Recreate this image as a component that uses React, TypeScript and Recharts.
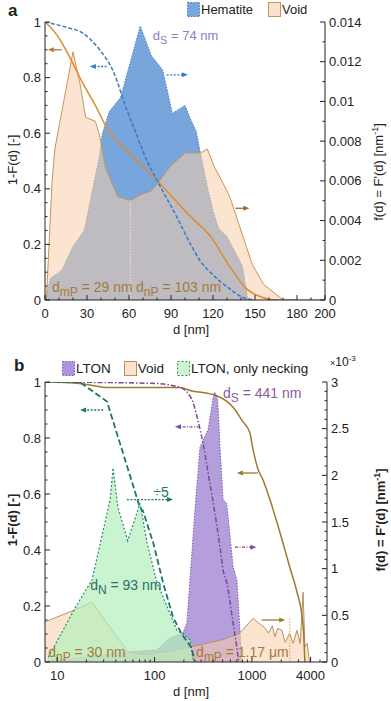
import React from 'react'
import { ComposedChart, Area, Line, XAxis, YAxis, ReferenceLine, ReferenceDot } from 'recharts'

const FONT = '"Liberation Sans", Arial, sans-serif'
const INK = '#222'

// ---- panel a : hematite / void, linear d ----
const hemD = [0, 4, 12, 20, 28, 39, 41, 46, 54, 68, 76, 84, 91, 100, 104, 108, 111, 116, 120, 124, 130, 141, 145]
const hemF = [0, 0.0011, 0.0015, 0.0027, 0.0035, 0.0073, 0.0084, 0.0095, 0.0102, 0.0138, 0.0123, 0.0116, 0.0094, 0.0098, 0.0091, 0.0085, 0.0074, 0.0057, 0.0045, 0.0036, 0.0032, 0.0017, 0]
const voidAD = [0, 1, 5, 7, 20, 25, 29, 36, 39, 43, 52, 61, 68, 76, 81, 89, 100, 111, 116, 121, 127, 132, 148, 156, 170, 200]
const voidAF = [0, 0, 0.0059, 0.0076, 0.0125, 0.0109, 0.0092, 0.009, 0.0083, 0.0067, 0.0052, 0.005, 0.0053, 0.0055, 0.0059, 0.0067, 0.0074, 0.0074, 0.0076, 0.0067, 0.0059, 0.0052, 0.0018, 0.0008, 0, 0]
const hemCumD = [0, 16, 27, 39, 49, 58, 65, 72, 80, 94, 104, 111, 118, 132, 141, 150]
const hemCum = [1, 0.98, 0.96, 0.9, 0.82, 0.69, 0.6, 0.51, 0.43, 0.3, 0.2, 0.14, 0.1, 0.04, 0.01, 0]
const voidACumD = [0, 9, 18, 27, 37, 44, 58, 80, 104, 118, 132, 144, 155, 165, 180]
const voidACum = [1, 0.95, 0.87, 0.78, 0.69, 0.62, 0.54, 0.43, 0.3, 0.23, 0.12, 0.04, 0.01, 0, 0]
const xMajorA = [0, 30, 60, 90, 120, 150, 180, 200]

// ---- panel b : LTON / void / necking, log d (f in 1e-3 nm^-1) ----
const ltonD = [8, 15, 56, 106, 144, 195, 215, 231, 260, 293, 355, 400, 417, 445, 470, 505, 550, 570, 640, 700, 750, 780]
const ltonF = [0.02, 0.04, 0.11, 0.13, 0.26, 0.31, 0.42, 0.88, 1.63, 2.3, 2.49, 2.83, 2.89, 2.81, 2.3, 1.74, 1.7, 1.55, 1.02, 0.88, 0.38, 0]
const voidBD = [7.5, 15.3, 22.8, 53, 80, 150, 230, 345, 505, 750, 1030, 1100, 1230, 1350, 1480, 1620, 1720, 1840, 2030, 2200, 2440, 2650, 2900, 3130, 3350, 3500, 3700, 3900]
const voidBF = [0.43, 0.56, 0.64, 0.11, 0.08, 0.12, 0.16, 0.2, 0.24, 0.31, 0.47, 0.44, 0.4, 0.37, 0.31, 0.39, 0.27, 0.36, 0.34, 0.21, 0.31, 0.2, 0.34, 0.2, 0.75, 0.16, 0.2, 0]
const neckD = [8.1, 15.3, 22.8, 35, 37.5, 42, 53, 71, 84, 106, 144, 170, 190, 230, 250]
const neckF = [0.05, 0.58, 0.88, 1.74, 2.08, 1.66, 1.3, 1.7, 1.27, 0.85, 0.52, 0.34, 0.31, 0.24, 0.02]
const ltonCumD = [7.5, 100, 183, 240, 280, 315, 355, 417, 470, 505, 555, 640, 700, 730]
const ltonCum = [1, 0.995, 0.98, 0.94, 0.86, 0.78, 0.675, 0.53, 0.41, 0.33, 0.28, 0.14, 0.05, 0]
const voidBCumD = [7.5, 17, 35, 183, 231, 440, 640, 800, 950, 1024, 1150, 1300, 1530, 1950, 2440, 2900, 3250, 3400, 3500]
const voidBCum = [1, 0.995, 0.98, 0.98, 0.97, 0.95, 0.91, 0.86, 0.82, 0.76, 0.69, 0.65, 0.58, 0.46, 0.34, 0.25, 0.17, 0.1, 0]
const neckCumD = [7.5, 17, 32.5, 71, 76, 97, 123, 155, 190, 240, 260]
const neckCum = [1, 1, 0.93, 0.55, 0.54, 0.425, 0.28, 0.16, 0.1, 0.05, 0]
const xMajorB = [10, 100, 1000, 4000]
const xMinorB = [20, 30, 40, 50, 60, 70, 80, 90, 200, 300, 400, 500, 600, 700, 800, 900, 2000, 3000, 5000]

const zip = (xs: number[], ys: number[]) => xs.map((d, i) => ({ d, v: ys[i] }))

function steps(a: number, b: number, s: number) {
  const out: number[] = []
  for (let i = 0; a + i * s <= b + 1e-9; i++) out.push(Math.round((a + i * s) * 1e6) / 1e6)
  return out
}

const GAP = 2
type Side = 'left' | 'right' | 'bottom' | 'top'

function mkTick(side: Side, majors: number[], fmt: ((v: number) => string) | null, fs = 13) {
  return (p: any) => {
    const v = p.payload.value
    const major = majors.some((m) => Math.abs(m - v) < 1e-9)
    const L = major ? 5 : 2.5
    const t = { fontFamily: FONT, fontSize: fs, fill: INK }
    if (side === 'left') {
      const ax = p.x + GAP
      return (
        <g>
          <line x1={ax} x2={ax + L} y1={p.y} y2={p.y} stroke={INK} />
          {major && fmt && <text x={ax - 4} y={p.y + 4.5} textAnchor="end" {...t}>{fmt(v)}</text>}
        </g>
      )
    }
    if (side === 'right') {
      const ax = p.x - GAP
      return (
        <g>
          <line x1={ax} x2={ax - L} y1={p.y} y2={p.y} stroke={INK} />
          {major && fmt && <text x={ax + 4} y={p.y + 4.5} textAnchor="start" {...t}>{fmt(v)}</text>}
        </g>
      )
    }
    if (side === 'bottom') {
      const ay = p.y - GAP
      return (
        <g>
          <line x1={p.x} x2={p.x} y1={ay} y2={ay - L} stroke={INK} />
          {major && fmt && <text x={p.x} y={ay + 18} textAnchor="middle" {...t}>{fmt(v)}</text>}
        </g>
      )
    }
    const ay = p.y + GAP
    return <line x1={p.x} x2={p.x} y1={ay} y2={ay + L} stroke={INK} />
  }
}

function Arrow(p: any, color: string, dash?: string) {
  const { x1, y1, x2, y2 } = p
  const dir = x2 > x1 ? 1 : -1
  return (
    <g>
      <line x1={x1} y1={y1} x2={x2 - dir * 4} y2={y2} stroke={color} strokeWidth={1.3} strokeDasharray={dash} />
      <polygon points={`${x2},${y2} ${x2 - dir * 6},${y2 - 2.5} ${x2 - dir * 6},${y2 + 2.5}`} fill={color} />
    </g>
  )
}

function Sub(p: any, main: string, sub: string, rest: string, color: string, fs = 13) {
  return (
    <text x={p.cx} y={p.cy} fontFamily={FONT} fontSize={fs} fill={color}>
      <tspan>{main}</tspan>
      <tspan dy={4} fontSize={fs - 2}>{sub}</tspan>
      <tspan dy={-4}>{rest}</tspan>
    </text>
  )
}

function LegendBox({ fill, stroke, dash }: { fill: string; stroke: string; dash?: string }) {
  return (
    <svg width={13} height={15} style={{ verticalAlign: 'middle' }}>
      <rect x={0.5} y={0.5} width={12} height={14} fill={fill} stroke={stroke} strokeDasharray={dash} />
    </svg>
  )
}

const title: React.CSSProperties = { position: 'absolute', fontFamily: FONT, fontSize: 13, color: INK, whiteSpace: 'nowrap' }

function PanelA() {
  const leftTicks = steps(0, 1, 0.05)
  const rightTicks = steps(0, 0.014, 0.001)
  const xTicks = steps(0, 200, 10)
  const blue = '#3a78c8'
  const brown = '#b07a40'
  return (
    <ComposedChart width={391} height={345} margin={{ top: 22, right: 16, bottom: 15, left: 15 }}>
      <XAxis xAxisId="b" dataKey="d" type="number" domain={[0, 200]} allowDataOverflow ticks={xTicks} interval={0}
        tickSize={0} tickMargin={GAP} tickLine={false} axisLine={{ stroke: INK }} height={30}
        tick={mkTick('bottom', xMajorA, (v) => String(v))} />
      <XAxis xAxisId="t" orientation="top" type="number" domain={[0, 200]} allowDataOverflow ticks={xTicks} interval={0}
        tickSize={0} tickMargin={GAP} tickLine={false} axisLine={{ stroke: INK }} height={0}
        tick={mkTick('top', xMajorA, null)} />
      <YAxis yAxisId="l" type="number" domain={[0, 1]} allowDataOverflow ticks={leftTicks} interval={0} width={30}
        tickSize={0} tickMargin={GAP} tickLine={false} axisLine={{ stroke: INK }}
        tick={mkTick('left', steps(0, 1, 0.2), (v) => String(v))} />
      <YAxis yAxisId="r" orientation="right" type="number" domain={[0, 0.014]} allowDataOverflow ticks={rightTicks} interval={0} width={50}
        tickSize={0} tickMargin={GAP} tickLine={false} axisLine={{ stroke: INK }}
        tick={mkTick('right', steps(0, 0.014, 0.002), (v) => String(v))} />

      <Area xAxisId="b" yAxisId="r" data={zip(hemD, hemF)} dataKey="v" type="linear" fill="#78a6dc" fillOpacity={1}
        stroke="#4a7fc0" strokeWidth={1} strokeDasharray="1.5 1.5" isAnimationActive={false} />
      <Line xAxisId="b" yAxisId="l" data={zip(voidACumD, voidACum)} dataKey="v" type="monotone" dot={false}
        stroke="#e08a2e" strokeWidth={1.5} isAnimationActive={false} />
      <Line xAxisId="b" yAxisId="l" data={zip(hemCumD, hemCum)} dataKey="v" type="monotone" dot={false}
        stroke={blue} strokeWidth={1.5} strokeDasharray="4 2" isAnimationActive={false} />
      <Area xAxisId="b" yAxisId="r" data={zip(voidAD, voidAF)} dataKey="v" type="linear" fill="#f8ceaa" fillOpacity={0.55}
        stroke="#c4965a" strokeWidth={1} isAnimationActive={false} />
      <ReferenceLine xAxisId="b" yAxisId="l" segment={[{ x: 61, y: 0 }, { x: 61, y: 0.36 }]} stroke="#f2dcc0" strokeWidth={1.2} strokeDasharray="1.5 1.5" />

      <ReferenceLine xAxisId="b" yAxisId="l" segment={[{ x: 12, y: 0.9 }, { x: 2, y: 0.9 }]} shape={(p: any) => Arrow(p, brown)} />
      <ReferenceLine xAxisId="b" yAxisId="l" segment={[{ x: 44, y: 0.84 }, { x: 32, y: 0.84 }]} shape={(p: any) => Arrow(p, blue, '2 1.5')} />
      <ReferenceLine xAxisId="b" yAxisId="l" segment={[{ x: 87, y: 0.81 }, { x: 102, y: 0.81 }]} shape={(p: any) => Arrow(p, blue, '2 1.5')} />
      <ReferenceLine xAxisId="b" yAxisId="l" segment={[{ x: 136, y: 0.33 }, { x: 146, y: 0.33 }]} shape={(p: any) => Arrow(p, '#9a6a3a')} />

      <ReferenceDot xAxisId="b" yAxisId="l" x={77} y={0.935} r={0} shape={(p: any) => Sub(p, 'd', 'S', ' = 74 nm', '#8a80c0')} />
      <ReferenceDot xAxisId="b" yAxisId="l" x={5} y={0.03} r={0} shape={(p: any) => Sub(p, 'd', 'mP', ' = 29 nm', '#a57a3c', 14)} />
      <ReferenceDot xAxisId="b" yAxisId="l" x={65} y={0.03} r={0} shape={(p: any) => Sub(p, 'd', 'nP', ' = 103 nm', '#a57a3c', 14)} />
    </ComposedChart>
  )
}

function PanelB() {
  const leftTicks = steps(0, 1, 0.05)
  const rightTicks = steps(0, 3, 0.1)
  const xTicks = [...xMajorB, ...xMinorB].sort((a, b) => a - b)
  const purple = '#7a4a9a'
  const green = '#1a7a5a'
  const brown = '#a0782e'
  return (
    <ComposedChart width={391} height={356} margin={{ top: 37, right: 14, bottom: 9, left: 15 }}>
      <XAxis xAxisId="b" dataKey="d" type="number" scale="log" domain={[7.5, 5900]} allowDataOverflow ticks={xTicks} interval={0}
        tickSize={0} tickMargin={GAP} tickLine={false} axisLine={{ stroke: INK }} height={30}
        tick={mkTick('bottom', xMajorB, (v) => String(v))} />
      <XAxis xAxisId="t" orientation="top" type="number" scale="log" domain={[7.5, 5900]} allowDataOverflow ticks={xTicks} interval={0}
        tickSize={0} tickMargin={GAP} tickLine={false} axisLine={{ stroke: INK }} height={0}
        tick={mkTick('top', xMajorB, null)} />
      <YAxis yAxisId="l" type="number" domain={[0, 1]} allowDataOverflow ticks={leftTicks} interval={0} width={30}
        tickSize={0} tickMargin={GAP} tickLine={false} axisLine={{ stroke: INK }}
        tick={mkTick('left', steps(0, 1, 0.2), (v) => String(v))} />
      <YAxis yAxisId="r" orientation="right" type="number" domain={[0, 3]} allowDataOverflow ticks={rightTicks} interval={0} width={50}
        tickSize={0} tickMargin={GAP} tickLine={false} axisLine={{ stroke: INK }}
        tick={mkTick('right', steps(0, 3, 0.5), (v) => String(v))} />

      <Area xAxisId="b" yAxisId="r" data={zip(ltonD, ltonF)} dataKey="v" type="linear" fill="#ac94d8" fillOpacity={0.9}
        stroke="#7c58a8" strokeWidth={1} strokeDasharray="1.5 1.5" isAnimationActive={false} />
      <Area xAxisId="b" yAxisId="r" data={zip(voidBD, voidBF)} dataKey="v" type="linear" fill="#f8ceaa" fillOpacity={0.55}
        stroke="#b89060" strokeWidth={1} isAnimationActive={false} />
      <Area xAxisId="b" yAxisId="r" data={zip(neckD, neckF)} dataKey="v" type="linear" fill="#b4f0bc" fillOpacity={0.7}
        stroke="#2a8a6a" strokeWidth={1.2} strokeDasharray="2 2" isAnimationActive={false} />
      <ReferenceLine xAxisId="b" yAxisId="l" segment={[{ x: 2450, y: 0 }, { x: 2450, y: 0.16 }]} stroke="#f0b070" strokeWidth={1.2} strokeDasharray="1.5 1.5" />
      <Line xAxisId="b" yAxisId="l" data={zip(voidBCumD, voidBCum)} dataKey="v" type="monotone" dot={false}
        stroke={brown} strokeWidth={1.5} isAnimationActive={false} />
      <Line xAxisId="b" yAxisId="l" data={zip(ltonCumD, ltonCum)} dataKey="v" type="monotone" dot={false}
        stroke={purple} strokeWidth={1.5} strokeDasharray="5 2 1.5 2" isAnimationActive={false} />
      <Line xAxisId="b" yAxisId="l" data={zip(neckCumD, neckCum)} dataKey="v" type="linear" dot={false}
        stroke={green} strokeWidth={1.8} strokeDasharray="6 3" isAnimationActive={false} />

      <ReferenceLine xAxisId="b" yAxisId="l" segment={[{ x: 29.7, y: 0.9 }, { x: 17.2, y: 0.9 }]} shape={(p: any) => Arrow(p, green, '2 1.5')} />
      <ReferenceLine xAxisId="b" yAxisId="l" segment={[{ x: 52, y: 0.58 }, { x: 155, y: 0.58 }]} shape={(p: any) => Arrow(p, green, '2 1.5')} />
      <ReferenceLine xAxisId="b" yAxisId="l" segment={[{ x: 290, y: 0.84 }, { x: 162, y: 0.84 }]} shape={(p: any) => Arrow(p, purple, '3 1.5 1 1.5')} />
      <ReferenceLine xAxisId="b" yAxisId="l" segment={[{ x: 670, y: 0.41 }, { x: 1110, y: 0.41 }]} shape={(p: any) => Arrow(p, purple, '3 1.5 1 1.5')} />
      <ReferenceLine xAxisId="b" yAxisId="l" segment={[{ x: 1150, y: 0.675 }, { x: 700, y: 0.675 }]} shape={(p: any) => Arrow(p, brown)} />
      <ReferenceLine xAxisId="b" yAxisId="l" segment={[{ x: 1260, y: 0.15 }, { x: 2200, y: 0.15 }]} shape={(p: any) => Arrow(p, brown)} />

      <ReferenceDot xAxisId="b" yAxisId="l" x={505} y={0.943} r={0} shape={(p: any) => Sub(p, 'd', 'S', ' = 441 nm', '#8a5a9e', 14)} />
      <ReferenceDot xAxisId="b" yAxisId="l" x={97} y={0.59} r={0} shape={(p: any) => (
        <text x={p.cx} y={p.cy} fontFamily={FONT} fontSize={14} fill="#1a7a5a">÷5</text>
      )} />
      <ReferenceDot xAxisId="b" yAxisId="l" x={21.8} y={0.257} r={0} shape={(p: any) => Sub(p, 'd', 'N', ' = 93 nm', '#2e6e6a', 14)} />
      <ReferenceDot xAxisId="b" yAxisId="l" x={8.1} y={0.018} r={0} shape={(p: any) => Sub(p, 'd', 'nP', ' = 30 nm', '#a57a3c', 14)} />
      <ReferenceDot xAxisId="b" yAxisId="l" x={267} y={0.018} r={0} shape={(p: any) => Sub(p, 'd', 'mP', ' = 1.17 μm', '#a57a3c', 14)} />
    </ComposedChart>
  )
}

export default function App() {
  return (
    <div style={{ position: 'absolute', left: 0, top: 0, width: 391, height: 701, background: '#fff', overflow: 'hidden' }}>
      <div style={{ position: 'absolute', left: 0, top: 0 }}><PanelA /></div>
      <div style={{ position: 'absolute', left: 0, top: 345 }}><PanelB /></div>

      <div style={{ ...title, left: 8, top: 1, fontSize: 17, fontWeight: 700 }}>a</div>
      <div style={{ ...title, left: 187, top: 2, display: 'flex', alignItems: 'center', gap: 1 }}>
        <LegendBox fill="#78a6dc" stroke="#3a78c8" dash="1.5 1.5" /><span style={{ marginRight: 14 }}>Hematite</span>
        <LegendBox fill="#fbe2cc" stroke="#c4965a" /><span>Void</span>
      </div>
      <div style={{ ...title, left: 173, top: 322 }}>d [nm]</div>
      <div style={{ ...title, left: 12, top: 160, transform: 'translate(-50%,-50%) rotate(-90deg)' }}>1-F(d) [-]</div>
      <div style={{ ...title, left: 378, top: 172, transform: 'translate(-50%,-50%) rotate(-90deg)' }}>
        f(d) = F'(d) [nm<sup style={{ fontSize: 9 }}>-1</sup>]
      </div>

      <div style={{ ...title, left: 14, top: 356, fontSize: 17, fontWeight: 700 }}>b</div>
      <div style={{ ...title, left: 62, top: 361, fontSize: 13.5, display: 'flex', alignItems: 'center', gap: 1 }}>
        <LegendBox fill="#ac94d8" stroke="#7c58a8" dash="1.5 1.5" /><span style={{ marginRight: 12 }}>LTON</span>
        <LegendBox fill="#fbe2cc" stroke="#b89060" /><span style={{ marginRight: 12 }}>Void</span>
        <LegendBox fill="#cdf5d2" stroke="#2a8a6a" dash="2 2" /><span>LTON, only necking</span>
      </div>
      <div style={{ ...title, left: 330, top: 354, fontSize: 12 }}>
        <span style={{ fontSize: 9 }}>×</span>10<sup style={{ fontSize: 8 }}>-3</sup>
      </div>
      <div style={{ ...title, left: 173, top: 684 }}>d [nm]</div>
      <div style={{ ...title, left: 12, top: 520, fontWeight: 700, transform: 'translate(-50%,-50%) rotate(-90deg)' }}>1-F(d) [-]</div>
      <div style={{ ...title, left: 380, top: 520, fontWeight: 700, transform: 'translate(-50%,-50%) rotate(-90deg)' }}>
        f(d) = F'(d) [nm<sup style={{ fontSize: 9 }}>-1</sup>]
      </div>
    </div>
  )
}
